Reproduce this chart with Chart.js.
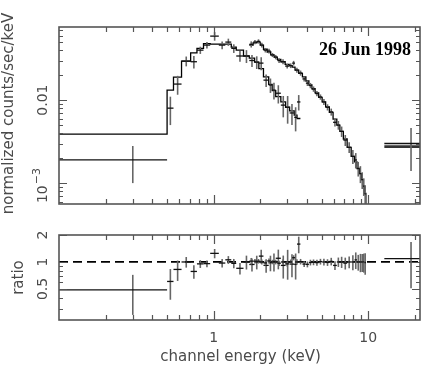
<!DOCTYPE html>
<html>
<head>
<meta charset="utf-8">
<script src="https://cdn.jsdelivr.net/npm/chart.js@4"></script>
<style>
  body { margin: 0; background: #fff; }
  #wrap { position: relative; width: 436px; height: 382px; }
  #wrap canvas { position: absolute; left: 0; top: 0; }
</style>
</head>
<body>
<div id="wrap">
  <canvas id="spec-chart" width="436" height="382"></canvas>
  <canvas id="ratio-chart" width="436" height="382"></canvas>
</div>
<script>
// --- DATA ---
// LECS: channel bin edges (keV), counts/sec/keV, 1-sigma errors, folded model
const lecsEdges = [0.1, 0.5, 0.55, 0.62, 0.71, 0.78, 0.86, 0.95, 1.08, 1.19, 1.30, 1.40, 1.56,
    1.70, 1.84, 1.96, 2.10, 2.27, 2.39, 2.52, 2.72, 2.92, 3.10, 3.32, 3.46, 3.64];
const lecsCounts = [0.0019, 0.0080, 0.0156, 0.0295, 0.029, 0.040, 0.046, 0.059, 0.046, 0.050,
    0.042, 0.034, 0.034, 0.030, 0.0287, 0.0279, 0.0174, 0.0152, 0.0132, 0.0121, 0.0087, 0.0082,
    0.0070, 0.0062, 0.0095];
const lecsErrors = [0.0009, 0.003, 0.004, 0.004, 0.005, 0.004, 0.004, 0.007, 0.005, 0.005,
    0.005, 0.005, 0.006, 0.005, 0.005, 0.005, 0.003, 0.003, 0.003, 0.003, 0.0025, 0.003,
    0.002, 0.002, 0.002];
const lecsModel = [0.0039, 0.0132, 0.0189, 0.0295, 0.037, 0.042, 0.048, 0.0473, 0.0473, 0.0473,
    0.0435, 0.040, 0.034, 0.032, 0.0287, 0.024, 0.019, 0.0155, 0.013, 0.011, 0.0095, 0.0082,
    0.0074, 0.0066, 0.006];

// MECS
const mecsEdges = [1.70, 1.80, 1.90, 2.00, 2.10, 2.22, 2.34, 2.46, 2.58, 2.72, 2.90, 3.08, 3.22,
    3.36, 3.55, 3.75, 3.95, 4.13, 4.32, 4.53, 4.78, 5.03, 5.30, 5.60, 5.92, 6.26, 6.55, 6.90,
    7.30, 7.75, 8.15, 8.45, 8.77, 9.02, 9.25, 9.45, 9.65];
const mecsCounts = [0.047, 0.050, 0.051, 0.046, 0.040, 0.039, 0.035, 0.033, 0.030, 0.029,
    0.0257, 0.026, 0.0279, 0.023, 0.0212, 0.018, 0.0160, 0.0150, 0.0136, 0.0120, 0.0109, 0.0095,
    0.0082, 0.0072, 0.0054, 0.0050, 0.0042, 0.0033, 0.0027, 0.0021, 0.0019, 0.0015, 0.0013,
    0.0011, 0.00092, 0.00074];
const mecsErrors = [0.004, 0.003, 0.003, 0.003, 0.0025, 0.0025, 0.002, 0.002, 0.002, 0.002,
    0.0017, 0.0017, 0.0018, 0.0016, 0.0015, 0.0013, 0.0012, 0.0011, 0.001, 0.0009, 0.0008, 0.0008,
    0.0007, 0.0007, 0.0006, 0.0006, 0.0006, 0.0005, 0.0004, 0.0004, 0.0004, 0.0003, 0.0003,
    0.00025, 0.00022, 0.0002];
const mecsModel = [0.046, 0.049, 0.050, 0.046, 0.041, 0.038, 0.035, 0.033, 0.031, 0.029,
    0.027, 0.026, 0.025, 0.023, 0.021, 0.019, 0.017, 0.0152, 0.0137, 0.0122, 0.0108, 0.0095,
    0.0083, 0.0071, 0.0059, 0.0050, 0.0042, 0.0034, 0.0027, 0.0021, 0.0018, 0.0015, 0.0013,
    0.0011, 0.00092, 0.00075];

// PDS
const pdsEdges = [12.7, 25.1];
const pdsCounts = [0.0030];
const pdsErrors = [0.0016];
const pdsModel = [0.00275];

// axes
const energyTickValues = [1, 10];
const energyTickLabels = ['1', '10'];
const energyMinorTicks = [0.2, 0.3, 0.4, 0.5, 0.6, 0.7, 0.8, 0.9, 2, 3, 4, 5, 6, 7, 8, 9, 20];
const countTickValues = [0.01, 0.001];
const countTickLabels = ['0.01', '10^-3'];
const countMinorTicks = [6e-4, 7e-4, 8e-4, 9e-4, 2e-3, 3e-3, 4e-3, 5e-3, 6e-3, 7e-3, 8e-3, 9e-3,
    0.02, 0.03, 0.04, 0.05, 0.06, 0.07];
const ratioTickValues = [0.5, 1, 2];
const ratioTickLabels = ['0.5', '1', '2'];
const ratioMinorTicks = [0.3, 0.4, 0.6, 0.7, 0.8, 0.9];

// --- HELPERS ---
function crossPoints(edges, values, errors, model) {
    // model given -> data / model ratio
    return values.map((v, i) => {
        const m = model ? model[i] : 1;
        return {
            x: (edges[i] + edges[i + 1]) / 2,
            y: v / m,
            xMin: edges[i],
            xMax: edges[i + 1],
            yMin: Math.max((v - errors[i]) / m, 1e-6),
            yMax: (v + errors[i]) / m
        };
    });
}

function stepPoints(edges, values) {
    return edges.map((e, i) => ({ x: e, y: values[Math.min(i, values.length - 1)] }));
}

const TEXT = '#4a4a4a';
const FONT = '"DejaVu Sans", sans-serif';

// error crosses + frame/ticks/labels
const spectrumPlugin = {
    id: 'spectrum',
    afterDatasetsDraw(chart) {
        const { ctx, chartArea: a, scales: { x, y } } = chart;
        ctx.save();
        ctx.beginPath();
        ctx.rect(a.left, a.top, a.right - a.left, a.bottom - a.top);
        ctx.clip();
        chart.data.datasets.forEach(ds => {
            if (!ds.crosses) return;
            ds.data.forEach(p => {
                const px = x.getPixelForValue(p.x);
                const py = y.getPixelForValue(p.y);
                ctx.strokeStyle = '#666';
                ctx.lineWidth = 1.6;
                ctx.beginPath();
                ctx.moveTo(px, y.getPixelForValue(p.yMin));
                ctx.lineTo(px, y.getPixelForValue(p.yMax));
                ctx.stroke();
                ctx.strokeStyle = '#111';
                ctx.lineWidth = 1.3;
                ctx.beginPath();
                ctx.moveTo(x.getPixelForValue(p.xMin), py);
                ctx.lineTo(x.getPixelForValue(p.xMax), py);
                ctx.stroke();
            });
        });
        ctx.restore();
    },
    afterDraw(chart, args, opts) {
        const { ctx, chartArea: a, scales: { x, y } } = chart;
        ctx.save();
        ctx.strokeStyle = '#555';
        ctx.lineWidth = 1.6;
        ctx.strokeRect(a.left, a.top, a.right - a.left, a.bottom - a.top);

        ctx.lineWidth = 1.2;
        ctx.beginPath();
        const xTick = (v, len) => {
            const px = Math.round(x.getPixelForValue(v)) + 0.5;
            ctx.moveTo(px, a.bottom); ctx.lineTo(px, a.bottom - len);
            ctx.moveTo(px, a.top); ctx.lineTo(px, a.top + len);
        };
        const yTick = (v, len) => {
            const py = Math.round(y.getPixelForValue(v)) + 0.5;
            ctx.moveTo(a.left, py); ctx.lineTo(a.left + len, py);
            ctx.moveTo(a.right, py); ctx.lineTo(a.right - len, py);
        };
        energyTickValues.forEach(v => xTick(v, 9));
        energyMinorTicks.forEach(v => xTick(v, 5));
        opts.yMajor.forEach(v => yTick(v, 8));
        opts.yMinor.forEach(v => yTick(v, 4));
        ctx.stroke();

        ctx.fillStyle = TEXT;
        ctx.textAlign = 'center';
        ctx.textBaseline = 'middle';

        // rotated y tick labels
        opts.yMajor.forEach((v, i) => {
            const py = y.getPixelForValue(v);
            const label = opts.yLabels[i];
            ctx.save();
            ctx.translate(a.left - 16, py);
            ctx.rotate(-Math.PI / 2);
            if (label.includes('^')) {
                const [base, exp] = label.split('^');
                ctx.font = '14px ' + FONT;
                const w1 = ctx.measureText(base).width;
                ctx.font = '11px ' + FONT;
                const expText = exp.replace('-', '\u2212');
                const w2 = ctx.measureText(expText).width;
                const start = -(w1 + w2) / 2 - 3;
                ctx.textAlign = 'left';
                ctx.font = '14px ' + FONT;
                ctx.fillText(base, start, 0);
                ctx.font = '11px ' + FONT;
                ctx.fillText(expText, start + w1 + 1, -6);
            } else {
                ctx.font = '14px ' + FONT;
                ctx.fillText(label, 0, 0);
            }
            ctx.restore();
        });

        // y title
        ctx.save();
        ctx.font = '15px ' + FONT;
        ctx.translate(opts.yTitleX, (a.top + a.bottom) / 2 + opts.yTitleShift);
        ctx.rotate(-Math.PI / 2);
        ctx.fillText(opts.yTitle, 0, 0);
        ctx.restore();

        if (opts.xLabels) {
            ctx.font = '14px ' + FONT;
            energyTickValues.forEach((v, i) => {
                ctx.fillText(energyTickLabels[i], x.getPixelForValue(v), a.bottom + 18);
            });
            ctx.font = '15px ' + FONT;
            ctx.fillText(opts.xTitle, (a.left + a.right) / 2 + 1, a.bottom + 37);
        }

        if (opts.note) {
            ctx.font = 'bold 18px "Liberation Serif", serif';
            ctx.fillStyle = '#000';
            ctx.textAlign = 'right';
            ctx.fillText(opts.note, a.right - 9, a.top + 23);
        }
        ctx.restore();
    }
};

function baseOptions(padding, yMin, yMax, frame) {
    return {
        responsive: false,
        animation: false,
        devicePixelRatio: 1,
        layout: { padding: padding },
        elements: { point: { radius: 0 } },
        plugins: {
            legend: { display: false },
            tooltip: { enabled: false },
            spectrum: frame
        },
        scales: {
            x: { type: 'logarithmic', min: 0.1, max: 21.6, display: false },
            y: { type: 'logarithmic', min: yMin, max: yMax, display: false }
        }
    };
}

function modelLine(points, width, color) {
    // 'before' in Chart.js = hold the previous value until the next edge
    return {
        type: 'line', data: points, stepped: 'before', borderColor: color,
        borderWidth: width, pointRadius: 0, fill: false
    };
}

function crossSet(points) {
    return { type: 'scatter', data: points, crosses: true, pointRadius: 0, showLine: false };
}

// --- TOP PANEL: folded spectrum ---
const mecsStep = stepPoints(mecsEdges, mecsModel)
    .concat([{ x: mecsEdges[mecsEdges.length - 1], y: 1e-4 }]);

new Chart(document.getElementById('spec-chart'), {
    type: 'line',
    data: {
        datasets: [
            modelLine(stepPoints(lecsEdges, lecsModel), 1.3, '#000'),
            modelLine(mecsStep, 1.3, '#000'),
            modelLine(stepPoints(pdsEdges, pdsModel), 2.6, '#333'),
            crossSet(crossPoints(lecsEdges, lecsCounts, lecsErrors)),
            crossSet(crossPoints(mecsEdges, mecsCounts, mecsErrors)),
            crossSet(crossPoints(pdsEdges, pdsCounts, pdsErrors))
        ]
    },
    options: baseOptions({ left: 59, right: 16, top: 27, bottom: 178 }, 5.6e-4, 0.076, {
        yMajor: countTickValues,
        yMinor: countMinorTicks,
        yLabels: countTickLabels,
        yTitle: 'normalized counts/sec/keV',
        yTitleX: 9,
        yTitleShift: -2,
        note: '26 Jun 1998'
    }),
    plugins: [spectrumPlugin]
});

// --- BOTTOM PANEL: data / model ratio ---
new Chart(document.getElementById('ratio-chart'), {
    type: 'line',
    data: {
        datasets: [
            {
                type: 'line', data: [{ x: 0.1, y: 1 }, { x: 21.6, y: 1 }],
                borderColor: '#000', borderWidth: 1.8, borderDash: [9, 5], pointRadius: 0
            },
            crossSet(crossPoints(lecsEdges, lecsCounts, lecsErrors, lecsModel)),
            crossSet(crossPoints(mecsEdges, mecsCounts, mecsErrors, mecsModel)),
            crossSet(crossPoints(pdsEdges, pdsCounts, pdsErrors, pdsModel))
        ]
    },
    options: baseOptions({ left: 59, right: 16, top: 235, bottom: 62 }, 0.225, 2, {
        yMajor: ratioTickValues,
        yMinor: ratioMinorTicks,
        yLabels: ratioTickLabels,
        yTitle: 'ratio',
        yTitleX: 19,
        yTitleShift: 0,
        xLabels: true,
        xTitle: 'channel energy (keV)'
    }),
    plugins: [spectrumPlugin]
});
</script>
</body>
</html>
